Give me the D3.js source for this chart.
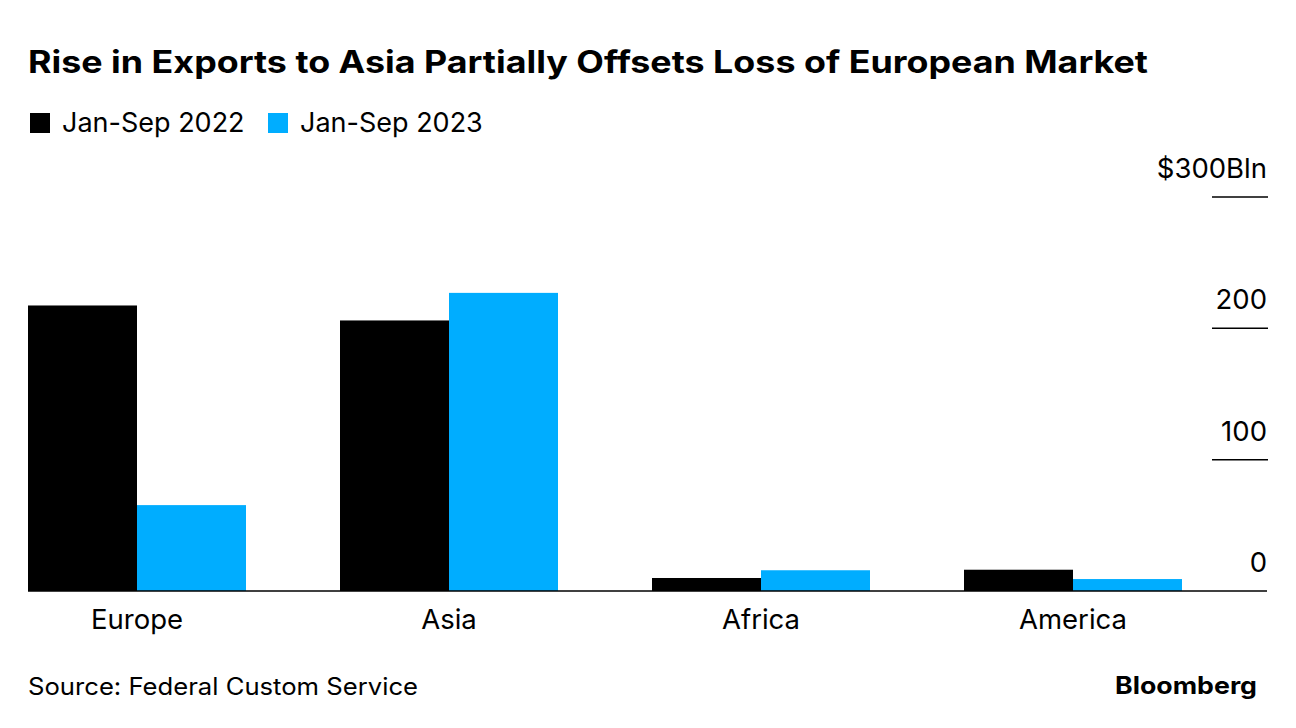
<!DOCTYPE html>
<html><head><meta charset="utf-8">
<script src="https://cdn.jsdelivr.net/npm/d3@7"></script>
<style>body{margin:0;background:#fff;} text{font-family:Inter, "Liberation Sans", sans-serif;}</style>
</head><body>
<svg id="c" width="1296" height="728"></svg>
<script>
const categories = ["Europe", "Asia", "Africa", "America"];
const seriesNames = ["Jan-Sep 2022", "Jan-Sep 2023"];
const values2022 = [217.4, 206, 9.9, 16.2];
const values2023 = [65.4, 227, 15.8, 9.1];
const tickValues = [0, 100, 200, 300];
const tickLabels = ["0", "100", "200", "$300Bln"];
const colors = ["#000000", "#00adff"];

const svg = d3.select("#c");
const x = d3.scaleBand().domain(categories).range([28, 1182]).paddingInner(0.3013).paddingOuter(0);
const xs = d3.scaleBand().domain(seriesNames).range([0, x.bandwidth()]).padding(0);
const y = d3.scaleLinear().domain([0, 300]).range([591, 197]);

// title
svg.append("text").attr("x", 28).attr("y", 73).attr("font-size", 31).attr("font-weight", 700)
  .attr("textLength", 1120).attr("lengthAdjust", "spacingAndGlyphs")
  .text("Rise in Exports to Asia Partially Offsets Loss of European Market");

// legend
const legX = [30, 268];
seriesNames.forEach((s, i) => {
  svg.append("rect").attr("x", legX[i]).attr("y", 113).attr("width", 20).attr("height", 20).attr("fill", colors[i]);
  svg.append("text").attr("x", legX[i] + 32).attr("y", 132).attr("font-size", 27).attr("fill", "#000").text(s);
});

// y axis ticks (right side)
const ticks = svg.append("g");
tickValues.forEach((v, i) => {
  if (v !== 0) {
    ticks.append("line").attr("x1", 1212).attr("x2", 1268).attr("y1", y(v)).attr("y2", y(v))
      .attr("stroke", "#000").attr("stroke-width", 1.5);
  }
  ticks.append("text").attr("x", 1267).attr("y", y(v) - 19).attr("text-anchor", "end")
    .attr("font-size", 27.5).text(tickLabels[i]);
});

// bars
const data = categories.map((c, i) => ({c, vals: [values2022[i], values2023[i]]}));
const g = svg.append("g");
data.forEach(d => {
  d.vals.forEach((v, j) => {
    g.append("rect").attr("x", x(d.c) + xs(seriesNames[j])).attr("width", xs.bandwidth())
      .attr("y", y(v)).attr("height", y(0) - y(v)).attr("fill", colors[j]);
  });
});

// baseline
svg.append("line").attr("x1", 28).attr("x2", 1267).attr("y1", y(0)).attr("y2", y(0))
  .attr("stroke", "#000").attr("stroke-width", 1.5);

// category labels
categories.forEach(c => {
  svg.append("text").attr("x", x(c) + x.bandwidth() / 2).attr("y", 629).attr("text-anchor", "middle")
    .attr("font-size", 27.5).text(c);
});

// footer
svg.append("text").attr("x", 28).attr("y", 695).attr("font-size", 24)
  .attr("textLength", 390).attr("lengthAdjust", "spacingAndGlyphs").text("Source: Federal Custom Service");
svg.append("text").attr("x", 1257).attr("y", 694).attr("text-anchor", "end").attr("font-size", 24)
  .attr("font-weight", 700).attr("textLength", 142).attr("lengthAdjust", "spacingAndGlyphs").text("Bloomberg");
</script>
</body></html>
